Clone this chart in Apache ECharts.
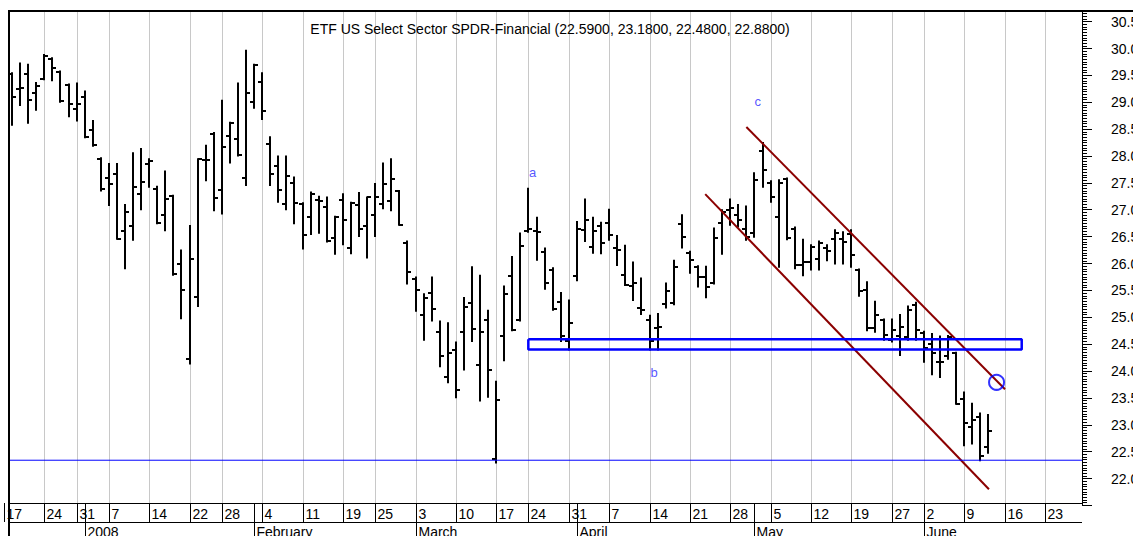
<!DOCTYPE html>
<html><head><meta charset="utf-8">
<script src="https://cdn.jsdelivr.net/npm/echarts@6/dist/echarts.min.js"></script>
<style>html,body{margin:0;padding:0;background:#fff;overflow:hidden}#c{width:1133px;height:536px}</style>
</head><body><div id="c"></div>
<script>
// ---- data (trading days; x index = position in dates + 1, Dec 17 2007 = index 0) ----
const dates = ['2007-12-18','2007-12-19','2007-12-20','2007-12-21','2007-12-24','2007-12-26','2007-12-27','2007-12-28','2007-12-31',
'2008-01-02','2008-01-03','2008-01-04','2008-01-07','2008-01-08','2008-01-09','2008-01-10','2008-01-11','2008-01-14','2008-01-15','2008-01-16','2008-01-17','2008-01-18',
'2008-01-22','2008-01-23','2008-01-24','2008-01-25','2008-01-28','2008-01-29','2008-01-30','2008-01-31',
'2008-02-01','2008-02-04','2008-02-05','2008-02-06','2008-02-07','2008-02-08','2008-02-11','2008-02-12','2008-02-13','2008-02-14','2008-02-15',
'2008-02-19','2008-02-20','2008-02-21','2008-02-22','2008-02-25','2008-02-26','2008-02-27','2008-02-28','2008-02-29',
'2008-03-03','2008-03-04','2008-03-05','2008-03-06','2008-03-07','2008-03-10','2008-03-11','2008-03-12','2008-03-13','2008-03-14',
'2008-03-17','2008-03-18','2008-03-19','2008-03-20','2008-03-24','2008-03-25','2008-03-26','2008-03-27','2008-03-28','2008-03-31',
'2008-04-01','2008-04-02','2008-04-03','2008-04-04','2008-04-07','2008-04-08','2008-04-09','2008-04-10','2008-04-11',
'2008-04-14','2008-04-15','2008-04-16','2008-04-17','2008-04-18','2008-04-21','2008-04-22','2008-04-23','2008-04-24','2008-04-25',
'2008-04-28','2008-04-29','2008-04-30','2008-05-01','2008-05-02','2008-05-05','2008-05-06','2008-05-07','2008-05-08','2008-05-09',
'2008-05-12','2008-05-13','2008-05-14','2008-05-15','2008-05-16','2008-05-19','2008-05-20','2008-05-21','2008-05-22','2008-05-23',
'2008-05-27','2008-05-28','2008-05-29','2008-05-30','2008-06-02','2008-06-03','2008-06-04','2008-06-05','2008-06-06',
'2008-06-09','2008-06-10','2008-06-11','2008-06-12'];
const open = [29.52,29.25,29.52,29.17,29.43,29.80,29.56,29.32,28.87,
29.10,28.48,27.94,27.60,27.66,26.61,26.70,27.29,27.85,27.38,26.90,27.26,26.00,
24.22,25.37,27.93,28.41,27.36,28.37,28.32,27.60,
29.01,29.38,28.22,27.81,27.10,27.50,27.11,26.87,27.19,27.06,26.47,
27.19,26.28,27.09,26.70,26.90,27.11,27.17,27.34,26.39,
25.72,25.05,25.45,24.73,23.88,24.39,24.72,25.26,24.12,24.95,
22.36,24.66,25.76,24.95,26.60,26.60,26.22,25.88,25.28,24.55,
25.76,26.62,26.31,26.70,26.76,26.28,25.79,25.58,25.17,
24.95,24.80,25.25,25.26,26.73,26.20,25.93,25.75,25.64,26.75,
26.99,26.90,26.65,26.56,28.09,27.50,26.86,27.57,26.65,25.97,
26.02,26.08,26.28,26.45,26.45,26.55,25.88,25.50,24.80,24.94,
24.58,24.65,24.64,25.23,24.70,24.51,24.17,24.27,24.34,
23.47,22.95,23.15,22.59];
const high = [29.54,29.72,29.70,29.36,29.88,29.82,29.57,29.33,29.35,
29.20,28.65,27.96,27.85,27.85,27.09,28.05,28.13,27.94,27.43,27.71,27.26,26.24,
26.70,27.94,28.19,28.43,29.03,28.62,29.35,29.96,
29.70,29.54,28.35,27.99,27.99,27.60,27.12,27.32,27.24,27.23,26.87,
27.29,27.13,27.31,27.23,27.48,27.86,27.94,27.35,26.41,
25.74,25.43,25.74,24.92,24.89,24.53,25.36,25.93,25.77,25.12,
23.80,25.57,26.12,26.56,27.39,26.85,26.28,25.91,25.45,25.31,
26.77,27.19,26.85,26.76,27.00,26.51,26.33,26.02,25.72,
25.03,25.06,25.63,26.05,26.90,26.22,25.95,25.94,26.65,26.99,
27.19,27.09,27.06,27.68,28.24,27.53,27.55,27.58,26.67,26.44,
26.34,26.41,26.34,26.62,26.58,26.62,25.89,25.65,25.29,24.96,
24.96,25.04,25.20,25.27,24.73,24.69,24.64,24.65,24.34,
23.60,23.39,23.21,23.18];
const low = [28.58,28.95,28.62,28.86,29.43,29.41,29.01,28.74,28.66,
28.35,28.19,27.36,27.09,26.46,25.91,26.44,27.01,27.43,26.75,26.62,25.79,24.98,
24.14,25.21,27.55,26.99,26.93,27.88,28.01,27.46,
28.90,28.69,27.46,27.15,27.01,26.75,26.28,26.55,26.57,26.41,26.18,
26.36,26.19,26.51,26.11,26.51,27.03,26.99,26.72,25.63,
25.12,24.58,24.94,24.09,23.79,23.51,24.03,24.56,23.45,23.52,
22.30,24.20,24.76,24.94,26.59,26.07,25.53,25.14,24.56,24.40,
25.69,26.42,26.20,26.19,26.44,25.97,25.60,25.32,25.06,
24.40,24.40,25.18,25.24,26.30,25.83,25.57,25.37,25.63,26.18,
26.72,26.69,26.44,26.50,27.43,27.15,25.94,26.45,25.91,25.78,
25.89,25.89,26.06,26.00,26.00,25.94,25.40,24.76,24.73,24.58,
24.55,24.30,24.58,24.58,24.17,23.94,23.89,24.23,23.39,
22.62,22.65,22.34,22.48];
const close = [29.09,29.26,29.04,29.30,29.86,29.63,29.02,28.97,28.97,
28.36,28.20,27.38,27.48,26.46,26.96,27.43,27.51,27.91,26.75,27.20,25.80,25.51,
26.08,27.94,27.93,27.21,28.17,28.61,28.02,29.18,
29.69,28.84,27.66,27.37,27.62,27.13,26.53,27.29,27.17,26.42,26.86,
26.81,27.12,26.64,27.23,27.23,27.47,27.57,26.72,25.85,
25.51,25.35,25.15,24.28,24.33,23.65,25.20,24.78,24.72,24.02,
23.46,25.43,24.76,26.33,26.64,26.59,25.63,25.15,24.66,24.89,
26.64,26.81,26.60,26.39,26.53,26.25,25.60,25.63,25.14,
24.56,24.82,25.48,25.93,26.49,26.07,25.74,25.56,26.47,26.96,
27.03,26.81,26.50,27.55,27.74,27.24,27.50,26.47,25.97,26.02,
26.31,26.39,26.24,26.56,26.40,26.16,25.48,24.80,25.04,24.67,
24.77,24.82,25.13,24.77,24.42,24.34,24.17,24.63,23.39,
23.03,23.09,22.42,22.88];

const weekStartIdx = [0,5,9,13,18,23,27,32,37,42,46,51,56,61,65,70,75,80,85,90,95,100,105,110,114,119,124,129];
const weekLabels = ['17','24','31','7','14','22','28','4','11','19','25','3','10','17','24','31','7','14','21','28','5','12','19','27','2','9','16','23'];
const monthStartIdx = [10,31,51,71,93,114];
const monthLabels = ['2008','February','March','April','May','June'];

const upperTrend = [[92.0,28.54],[124.05,23.66]];
const lowerTrend = [[86.9,27.29],[122.06,21.80]];
const boxX = [64.98,126.12];
const boxY = [24.59,24.40];
const supportLevel = 22.34;
const circlePoint = [123.0,23.79];
const waveNames = ['a','b','c'];
const waveX = [65.5,80.58,93.4];
const waveY = [27.69,23.98,29.02];

const X_MIN = 0.626, X_MAX = 133.59;
const Y_MIN = 21.5, Y_MAX = 30.7;

// ---- layout ----
const AXIS_Y = 503, ROW1_Y = 522, BOTTOM_Y = 536, TOP_Y = 11, LEFT_X = 9, RIGHT_X = 1082;
const FONT = 'Liberation Sans, Arial, sans-serif';

const last = dates.length - 1;
const titleText = 'ETF US Select Sector SPDR-Financial (' +
  [open[last], high[last], low[last], close[last]].map(v => v.toFixed(4)).join(', ') + ')';

const chart = echarts.init(document.getElementById('c'), null, {renderer:'svg'});

const ohlcData = dates.map((d, i) => [i + 1, open[i], high[i], low[i], close[i]]);

const option = {
  animation: false,
  backgroundColor: '#fff',
  title: {text: titleText, left: 545, top: 17, textAlign: 'center',
    textStyle: {fontFamily: FONT, fontSize: 14, fontWeight: 'normal', color: '#000'}},
  grid: {left: LEFT_X, right: 1133 - RIGHT_X, top: 10.875, bottom: 536 - 505.375,
    containLabel: false, outerBoundsMode: 'none'},
  xAxis: {type: 'value', min: X_MIN, max: X_MAX, show: false},
  yAxis: {type: 'value', position: 'right', min: Y_MIN, max: Y_MAX, interval: 0.5,
    axisLine: {show: true, lineStyle: {color: '#000', width: 1}},
    axisTick: {show: true, length: 10, inside: false, lineStyle: {color: '#000', width: 1}},
    minorTick: {show: true, splitNumber: 10, length: 5, lineStyle: {color: '#000', width: 1}},
    splitLine: {show: false},
    axisLabel: {margin: 29, color: '#000', fontSize: 14, fontFamily: FONT, hideOverlap: false,
      formatter: v => (v < 21.9 || v > 30.6) ? '' : v.toFixed(1)}},
  graphic: [
    {type: 'line', z: 100, shape: {x1: LEFT_X - 1, y1: TOP_Y, x2: 1133, y2: TOP_Y}, style: {stroke: '#000', lineWidth: 2}},
    {type: 'line', z: 100, shape: {x1: LEFT_X, y1: TOP_Y, x2: LEFT_X, y2: BOTTOM_Y}, style: {stroke: '#000', lineWidth: 2}},
    {type: 'line', z: 100, shape: {x1: LEFT_X, y1: AXIS_Y + 0.5, x2: RIGHT_X, y2: AXIS_Y + 0.5}, style: {stroke: '#000', lineWidth: 1}},
    {type: 'line', z: 100, shape: {x1: LEFT_X, y1: ROW1_Y + 0.5, x2: RIGHT_X, y2: ROW1_Y + 0.5}, style: {stroke: '#000', lineWidth: 1}}
  ],
  series: [
    { // weekly grid lines + day labels
      type: 'custom', clip: false, silent: true, z: 1,
      data: weekStartIdx.map((v, i) => [v, i]),
      encode: {x: 0},
      renderItem(params, api) {
        const x = Math.round(api.coord([api.value(0), Y_MAX])[0]) + 0.5;
        const ch = [];
        if (x > LEFT_X + 1 && x < RIGHT_X - 1) {
          ch.push({type: 'line', shape: {x1: x, y1: TOP_Y, x2: x, y2: AXIS_Y}, style: {stroke: '#c8c8c8', lineWidth: 1}});
        }
        ch.push({type: 'line', shape: {x1: x, y1: AXIS_Y, x2: x, y2: ROW1_Y}, style: {stroke: '#000', lineWidth: 1}});
        ch.push({type: 'text', x: x + 2, y: 513.5, style: {text: weekLabels[api.value(1)], fill: '#000',
          font: '14px ' + FONT, textAlign: 'left', textVerticalAlign: 'middle'}});
        return {type: 'group', children: ch};
      }
    },
    { // month separators + labels
      type: 'custom', clip: false, silent: true, z: 1,
      data: monthStartIdx.map((v, i) => [v, i]),
      encode: {x: 0},
      renderItem(params, api) {
        const x = Math.round(api.coord([api.value(0), Y_MAX])[0]) + 0.5;
        return {type: 'group', children: [
          {type: 'line', shape: {x1: x, y1: AXIS_Y, x2: x, y2: BOTTOM_Y}, style: {stroke: '#000', lineWidth: 1}},
          {type: 'text', x: x + 2, y: 531.5, style: {text: monthLabels[api.value(1)], fill: '#000',
            font: '14px ' + FONT, textAlign: 'left', textVerticalAlign: 'middle'}}
        ]};
      }
    },
    { // OHLC bars
      type: 'custom', clip: true, z: 5,
      data: ohlcData,
      encode: {x: 0, y: [1, 2, 3, 4]},
      renderItem(params, api) {
        const xv = api.value(0);
        const pO = api.coord([xv, api.value(1)]);
        const pH = api.coord([xv, api.value(2)]);
        const pL = api.coord([xv, api.value(3)]);
        const pC = api.coord([xv, api.value(4)]);
        const cx = Math.round(pH[0]);
        const st = {stroke: '#000', lineWidth: 2};
        return {type: 'group', children: [
          {type: 'line', shape: {x1: cx, y1: pH[1] - 1, x2: cx, y2: pL[1] + 1}, style: st},
          {type: 'line', shape: {x1: cx - 4, y1: Math.round(pO[1]), x2: cx, y2: Math.round(pO[1])}, style: st},
          {type: 'line', shape: {x1: cx, y1: Math.round(pC[1]), x2: cx + 4, y2: Math.round(pC[1])}, style: st}
        ]};
      }
    },
    {type: 'line', z: 8, silent: true, symbol: 'none', data: upperTrend, lineStyle: {color: '#8b0000', width: 2}},
    {type: 'line', z: 8, silent: true, symbol: 'none', data: lowerTrend, lineStyle: {color: '#8b0000', width: 2}},
    {type: 'line', z: 8, silent: true, symbol: 'none',
      data: [[boxX[0], boxY[0]], [boxX[1], boxY[0]], [boxX[1], boxY[1]], [boxX[0], boxY[1]], [boxX[0], boxY[0]]],
      lineStyle: {color: '#0000ff', width: 2.5}},
    {type: 'line', z: 8, silent: true, symbol: 'none',
      data: [[X_MIN, supportLevel], [X_MAX, supportLevel]], lineStyle: {color: '#0000ff', width: 1}},
    {type: 'scatter', z: 9, silent: true, data: [circlePoint], symbol: 'circle', symbolSize: 15,
      itemStyle: {color: 'rgba(0,0,0,0)', borderColor: '#0000ff', borderWidth: 2}},
    {type: 'scatter', z: 9, silent: true, symbolSize: 1, itemStyle: {color: 'rgba(0,0,0,0)'},
      data: waveNames.map((n, i) => ({name: n, value: [waveX[i], waveY[i]]})),
      label: {show: true, position: 'inside', formatter: p => p.name, color: '#2a2aff',
        fontSize: 13, fontFamily: FONT}}
  ]
};
chart.setOption(option);
</script></body></html>
